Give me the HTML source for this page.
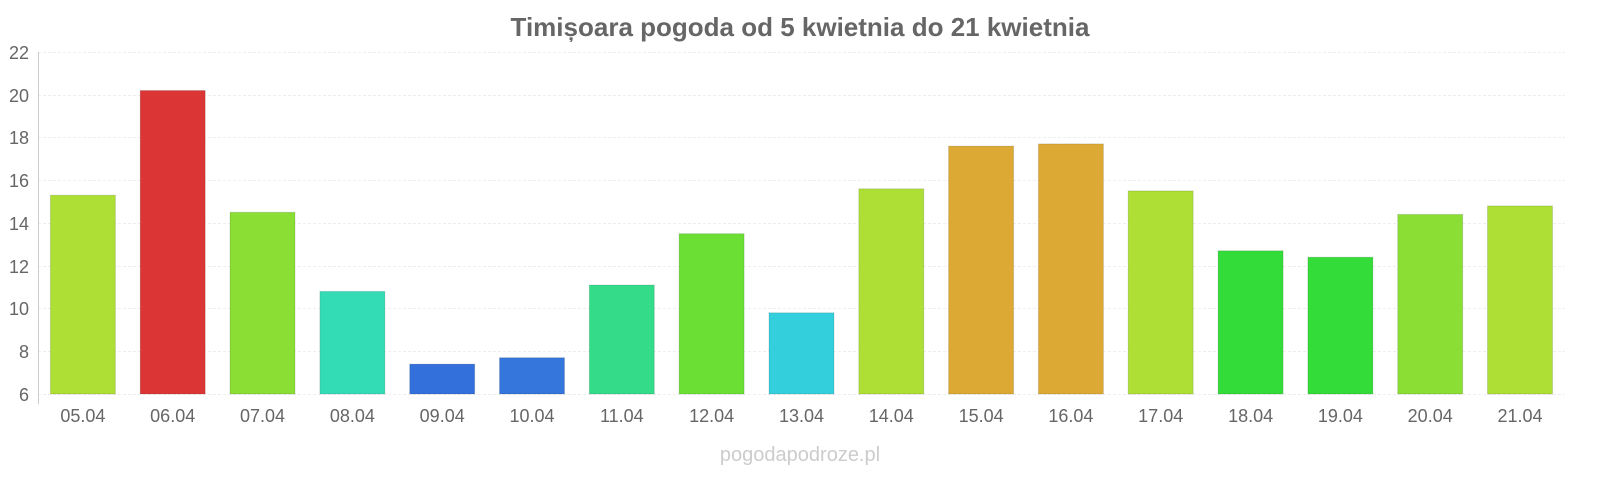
<!DOCTYPE html>
<html><head><meta charset="utf-8"><style>body{margin:0;background:#fff}svg{display:block}</style></head>
<body>
<svg width="1600" height="480" xmlns="http://www.w3.org/2000/svg" font-family="Liberation Sans, sans-serif">
<text x="800" y="36" text-anchor="middle" font-size="26" font-weight="bold" fill="#666">Timișoara pogoda od 5 kwietnia do 21 kwietnia</text>
<g stroke="#eee" stroke-width="1" stroke-dasharray="3,2">
<line x1="38" x2="1565" y1="52.5" y2="52.5"/><line x1="38" x2="1565" y1="95.5" y2="95.5"/><line x1="38" x2="1565" y1="137.5" y2="137.5"/><line x1="38" x2="1565" y1="180.5" y2="180.5"/><line x1="38" x2="1565" y1="223.5" y2="223.5"/><line x1="38" x2="1565" y1="266.5" y2="266.5"/><line x1="38" x2="1565" y1="308.5" y2="308.5"/><line x1="38" x2="1565" y1="351.5" y2="351.5"/><line x1="38" x2="1565" y1="394.5" y2="394.5"/>
</g>
<line x1="38.5" x2="38.5" y1="52" y2="404" stroke="#ccc"/>
<g font-size="18" fill="#666" text-anchor="end">
<text x="29" y="59">22</text><text x="29" y="102">20</text><text x="29" y="144">18</text><text x="29" y="187">16</text><text x="29" y="230">14</text><text x="29" y="273">12</text><text x="29" y="315">10</text><text x="29" y="358">8</text><text x="29" y="401">6</text>
</g>
<g stroke="rgba(0,0,0,0.12)" stroke-width="1">
<rect x="50.4" y="195.2" width="65" height="198.8" fill="#addf34"/>
<rect x="140.2" y="90.5" width="65" height="303.5" fill="#dc3535"/>
<rect x="230.0" y="212.3" width="65" height="181.7" fill="#8ade34"/>
<rect x="319.9" y="291.4" width="65" height="102.6" fill="#34dcb6"/>
<rect x="409.7" y="364.1" width="65" height="29.9" fill="#3470dc"/>
<rect x="499.5" y="357.7" width="65" height="36.3" fill="#3476dc"/>
<rect x="589.3" y="285.0" width="65" height="109.0" fill="#34dc8a"/>
<rect x="679.1" y="233.7" width="65" height="160.3" fill="#6cdf34"/>
<rect x="769.0" y="312.8" width="65" height="81.2" fill="#34cfdc"/>
<rect x="858.8" y="188.8" width="65" height="205.2" fill="#addf34"/>
<rect x="948.6" y="146.1" width="65" height="247.9" fill="#dcaa34"/>
<rect x="1038.4" y="143.9" width="65" height="250.1" fill="#dcaa34"/>
<rect x="1128.2" y="190.9" width="65" height="203.1" fill="#addf34"/>
<rect x="1218.1" y="250.8" width="65" height="143.2" fill="#34dc3a"/>
<rect x="1307.9" y="257.2" width="65" height="136.8" fill="#34dc3a"/>
<rect x="1397.7" y="214.4" width="65" height="179.6" fill="#8ade34"/>
<rect x="1487.5" y="205.9" width="65" height="188.1" fill="#addf34"/>
</g>
<g font-size="18" fill="#666" text-anchor="middle">
<text x="82.9" y="422">05.04</text><text x="172.7" y="422">06.04</text><text x="262.5" y="422">07.04</text><text x="352.4" y="422">08.04</text><text x="442.2" y="422">09.04</text><text x="532.0" y="422">10.04</text><text x="621.8" y="422">11.04</text><text x="711.6" y="422">12.04</text><text x="801.5" y="422">13.04</text><text x="891.3" y="422">14.04</text><text x="981.1" y="422">15.04</text><text x="1070.9" y="422">16.04</text><text x="1160.7" y="422">17.04</text><text x="1250.6" y="422">18.04</text><text x="1340.4" y="422">19.04</text><text x="1430.2" y="422">20.04</text><text x="1520.0" y="422">21.04</text>
</g>
<text x="800" y="461" text-anchor="middle" font-size="20" fill="#ccc">pogodapodroze.pl</text>
</svg>
</body></html>
